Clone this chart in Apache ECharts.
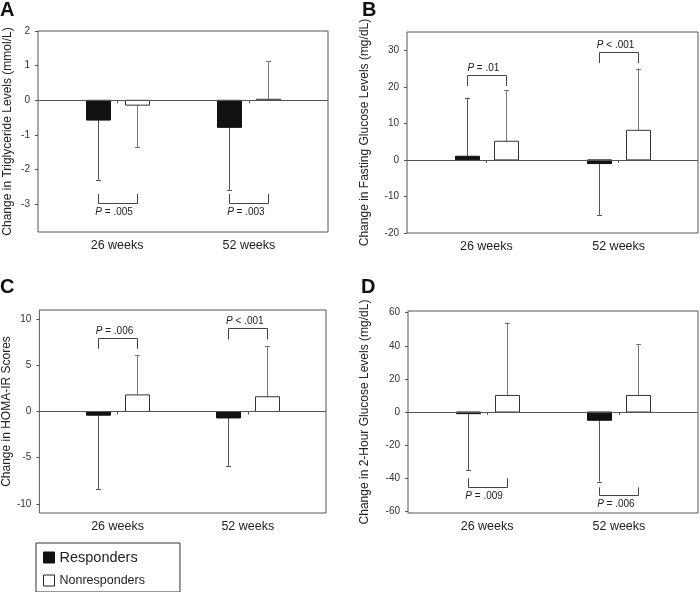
<!DOCTYPE html>
<html>
<head>
<meta charset="utf-8">
<script src="https://cdn.jsdelivr.net/npm/echarts@6/dist/echarts.min.js"></script>
<style>
html,body{margin:0;padding:0;background:#fff;}
#chart{width:700px;height:592px;}
</style>
</head>
<body>
<div id="chart"></div>
<script>
const categories = ['26 weeks', '52 weeks'];

// Panel A: triglycerides (mmol/L)
const trigResponders = [-0.57, -0.78];
const trigRespondersErr = [-2.29, -2.58];
const trigNonresponders = [-0.14, 0.03];
const trigNonrespondersErr = [-1.35, 1.12];
const trigBracket = [-2.95, -2.95];
const trigBracketTip = [-2.7, -2.7];
const trigP = ['= .005', '= .003'];
const trigTicks = [-3, -2, -1, 0, 1, 2];

// Panel B: fasting glucose (mg/dL)
const fastResponders = [1, -1];
const fastRespondersErr = [17, -15];
const fastNonresponders = [5.1, 8.1];
const fastNonrespondersErr = [19, 25];
const fastBracket = [23.1, 29.5];
const fastBracketTip = [20.2, 26.5];
const fastP = ['= .01', '< .001'];
const fastTicks = [-20, -10, 0, 10, 20, 30];

// Panel C: HOMA-IR
const homaResponders = [-0.4, -0.7];
const homaRespondersErr = [-8.4, -5.9];
const homaNonresponders = [1.8, 1.6];
const homaNonrespondersErr = [6.1, 7.1];
const homaBracket = [8.0, 9.0];
const homaBracketTip = [6.8, 7.8];
const homaP = ['= .006', '< .001'];
const homaTicks = [-10, -5, 0, 5, 10];

// Panel D: 2-hour glucose (mg/dL)
const ogttResponders = [-1, -5];
const ogttRespondersErr = [-35, -42];
const ogttNonresponders = [10, 10];
const ogttNonrespondersErr = [54, 41];
const ogttBracket = [-45, -50];
const ogttBracketTip = [-40, -45.5];
const ogttP = ['= .009', '= .006'];
const ogttTicks = [-60, -40, -20, 0, 20, 40, 60];

const FONT = '"Liberation Sans", Arial, sans-serif';

const panels = [
  {letter: 'A', title: 'Change in Triglyceride Levels (mmol/L)', resp: trigResponders, respErr: trigRespondersErr,
   non: trigNonresponders, nonErr: trigNonrespondersErr, br: trigBracket, brTip: trigBracketTip, p: trigP, ticks: trigTicks,
   min: -3.8, max: 2, grid: {left: 38, top: 31, width: 290, height: 201}, nameGap: 24, labelSide: 'below',
   letterPos: {left: 0, top: 0}},
  {letter: 'B', title: 'Change in Fasting Glucose Levels (mg/dL)', resp: fastResponders, respErr: fastRespondersErr,
   non: fastNonresponders, nonErr: fastNonrespondersErr, br: fastBracket, brTip: fastBracketTip, p: fastP, ticks: fastTicks,
   min: -20, max: 35, grid: {left: 407, top: 32, width: 291, height: 201}, nameGap: 36, labelSide: 'above',
   letterPos: {left: 362, top: 0}},
  {letter: 'C', title: 'Change in HOMA-IR Scores', resp: homaResponders, respErr: homaRespondersErr,
   non: homaNonresponders, nonErr: homaNonrespondersErr, br: homaBracket, brTip: homaBracketTip, p: homaP, ticks: homaTicks,
   min: -11, max: 11, grid: {left: 36, top: 310, width: 290, height: 203}, nameGap: 22, labelSide: 'above',
   letterPos: {left: 0, top: 277}},
  {letter: 'D', title: 'Change in 2-Hour Glucose Levels (mg/dL)', resp: ogttResponders, respErr: ogttRespondersErr,
   non: ogttNonresponders, nonErr: ogttNonrespondersErr, br: ogttBracket, brTip: ogttBracketTip, p: ogttP, ticks: ogttTicks,
   min: -61, max: 61, grid: {left: 408, top: 311, width: 290, height: 202}, nameGap: 37, labelSide: 'below',
   letterPos: {left: 361, top: 277}}
];

const OFF = 19.5, BW = 24;

function barRender(offset, fill, stroke, errColor) {
  return function (params, api) {
    const x = api.value(0), v = api.value(1), e = api.value(2);
    const p0 = api.coord([x, 0]);
    const pv = api.coord([x, v]);
    const pe = api.coord([x, e]);
    const cx = Math.round(p0[0] + offset) + 0.5;
    const top = Math.min(p0[1], pv[1]);
    const h = Math.max(Math.abs(p0[1] - pv[1]), 1);
    return {type: 'group', children: [
      {type: 'line', shape: {x1: cx, y1: pv[1], x2: cx, y2: pe[1]}, style: {stroke: errColor, lineWidth: 1}},
      {type: 'line', shape: {x1: cx - 2.5, y1: Math.round(pe[1]) + 0.5, x2: cx + 2.5, y2: Math.round(pe[1]) + 0.5}, style: {stroke: errColor, lineWidth: 1}},
      {type: 'rect', shape: {x: cx - BW / 2, y: top, width: BW, height: h}, style: {fill: fill, stroke: stroke, lineWidth: 1}}
    ]};
  };
}

function bracketRender(texts, side) {
  return function (params, api) {
    const x = api.value(0), y = api.value(1), tip = api.value(2);
    const py = api.coord([x, y]);
    const pt = api.coord([x, tip]);
    const x1 = Math.round(py[0] - OFF) + 0.5, x2 = Math.round(py[0] + OFF) + 0.5;
    const yy = Math.round(py[1]) + 0.5;
    const ty = side === 'below' ? yy + 9 : yy - 7;
    return {type: 'group', children: [
      {type: 'polyline', shape: {points: [[x1, pt[1]], [x1, yy], [x2, yy], [x2, pt[1]]]},
       style: {stroke: '#444', lineWidth: 1, fill: null}},
      {type: 'text', x: py[0] - 3, y: ty, style: {
        text: '{i|P} ' + texts[params.dataIndex], fill: '#222', fontSize: 10, fontFamily: FONT,
        align: 'center', verticalAlign: 'middle',
        rich: {i: {fontStyle: 'italic', fontSize: 10, fontFamily: FONT, fill: '#222'}}
      }}
    ]};
  };
}

const grids = [], xAxes = [], yAxes = [], series = [], graphics = [];
panels.forEach((pn, i) => {
  grids.push(Object.assign({show: true, borderColor: '#555', borderWidth: 1, containLabel: false}, pn.grid));
  xAxes.push({
    gridIndex: i, type: 'value', min: 0.4, max: 2.6,
    axisLine: {show: false}, splitLine: {show: false},
    axisTick: {show: true, customValues: [1, 2], length: 3, lineStyle: {color: '#555'}},
    axisLabel: {customValues: [1, 2], formatter: v => categories[Math.round(v) - 1], fontSize: 12.5, color: '#222', margin: 7, fontFamily: FONT}
  });
  yAxes.push({
    gridIndex: i, type: 'value', min: pn.min, max: pn.max,
    axisLine: {show: false}, splitLine: {show: false},
    axisTick: {show: true, customValues: pn.ticks, length: 3, lineStyle: {color: '#555'}},
    axisLabel: {customValues: pn.ticks, fontSize: 10, color: '#333', margin: 8, fontFamily: FONT},
    name: pn.title, nameLocation: 'middle', nameGap: pn.nameGap,
    nameTextStyle: {fontSize: 12, color: '#222', fontFamily: FONT}
  });
  series.push({
    type: 'custom', name: 'Responders', xAxisIndex: i, yAxisIndex: i,
    itemStyle: {color: '#111'},
    renderItem: barRender(-OFF, '#111', '#111', '#555'),
    data: categories.map((c, k) => [k + 1, pn.resp[k], pn.respErr[k]]),
    encode: {x: 0, y: [1, 2]}, z: 3,
    markLine: {silent: true, symbol: 'none', label: {show: false}, animation: false,
      lineStyle: {color: '#555', type: 'solid', width: 1}, data: [{yAxis: 0}]}
  });
  series.push({
    type: 'custom', name: 'Nonresponders', xAxisIndex: i, yAxisIndex: i,
    itemStyle: {color: '#fff', borderColor: '#222', borderWidth: 1},
    renderItem: barRender(OFF, '#fff', '#333', '#777'),
    data: categories.map((c, k) => [k + 1, pn.non[k], pn.nonErr[k]]),
    encode: {x: 0, y: [1, 2]}, z: 3
  });
  series.push({
    type: 'custom', name: 'brackets' + i, xAxisIndex: i, yAxisIndex: i,
    renderItem: bracketRender(pn.p, pn.labelSide),
    data: categories.map((c, k) => [k + 1, pn.br[k], pn.brTip[k]]),
    encode: {x: 0, y: [1, 2]}, z: 4
  });
  graphics.push({type: 'text', left: pn.letterPos.left, top: pn.letterPos.top,
    style: {text: pn.letter, fontSize: 20, fontWeight: 'bold', fontFamily: FONT, fill: '#111'}});
});

const chart = echarts.init(document.getElementById('chart'), null, {renderer: 'canvas'});
chart.setOption({
  animation: false,
  textStyle: {fontFamily: FONT},
  grid: grids, xAxis: xAxes, yAxis: yAxes, series: series, graphic: graphics,
  legend: {
    orient: 'vertical', left: 36, top: 543, selectedMode: false,
    borderColor: '#333', borderWidth: 1, padding: [7, 35, 5, 7],
    itemWidth: 11, itemHeight: 11, itemGap: 9, icon: 'rect',
    data: [
      {name: 'Responders', itemStyle: {color: '#111', borderColor: '#111', borderWidth: 1}},
      {name: 'Nonresponders', itemStyle: {color: '#fff', borderColor: '#222', borderWidth: 1}}
    ],
    formatter: n => n === 'Responders' ? '{big|' + n + '}' : '{small|' + n + '}',
    textStyle: {color: '#222', rich: {
      big: {fontSize: 14.5, fontFamily: FONT, color: '#222'},
      small: {fontSize: 12.5, fontFamily: FONT, color: '#222'}
    }}
  }
});
</script>
</body>
</html>
